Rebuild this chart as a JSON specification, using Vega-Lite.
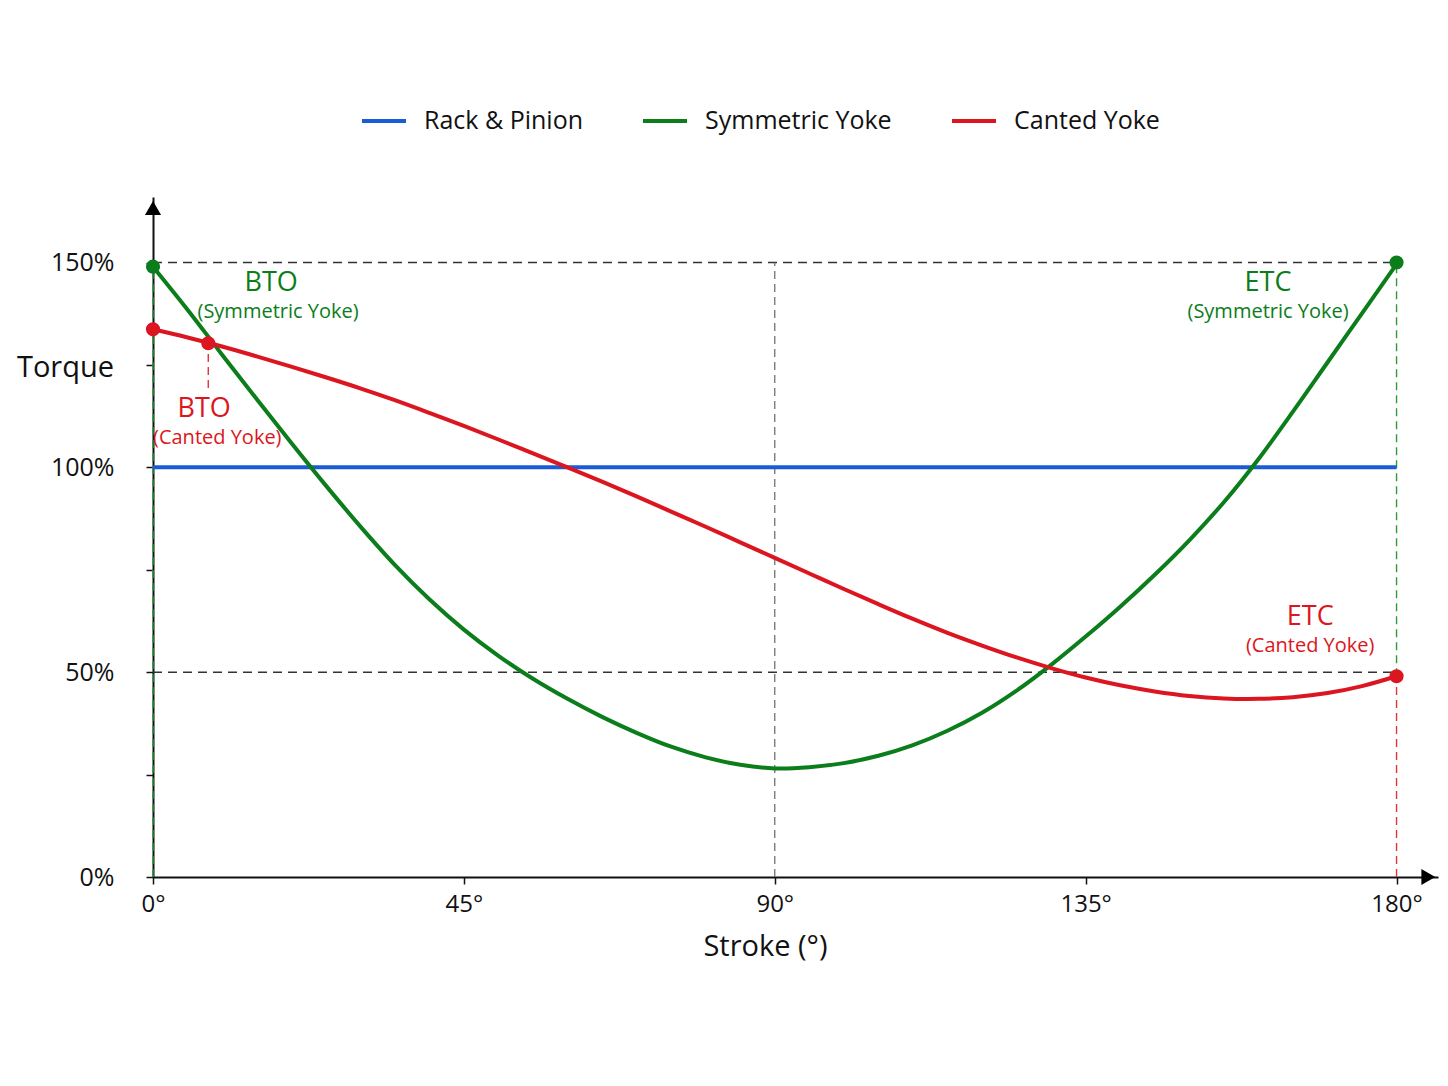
{
  "$schema": "https://vega.github.io/schema/vega-lite/v6.json",
  "autosize": "none",
  "width": 1285,
  "height": 680,
  "padding": {"left": 153, "top": 197, "right": 10, "bottom": 209},
  "background": "white",
  "datasets": {
    "curves": [
      {"series": "Rack & Pinion", "deg": 0, "pct": 100},
      {"series": "Rack & Pinion", "deg": 180, "pct": 100},
      {"series": "Symmetric Yoke", "deg": 0, "pct": 149},
      {"series": "Symmetric Yoke", "deg": 5, "pct": 138.5},
      {"series": "Symmetric Yoke", "deg": 10, "pct": 127.5},
      {"series": "Symmetric Yoke", "deg": 15, "pct": 116.7},
      {"series": "Symmetric Yoke", "deg": 20, "pct": 106},
      {"series": "Symmetric Yoke", "deg": 25, "pct": 95.6},
      {"series": "Symmetric Yoke", "deg": 30, "pct": 85.6},
      {"series": "Symmetric Yoke", "deg": 35, "pct": 76.2},
      {"series": "Symmetric Yoke", "deg": 40, "pct": 67.8},
      {"series": "Symmetric Yoke", "deg": 45, "pct": 60.4},
      {"series": "Symmetric Yoke", "deg": 50, "pct": 54},
      {"series": "Symmetric Yoke", "deg": 55, "pct": 48.4},
      {"series": "Symmetric Yoke", "deg": 60, "pct": 43.5},
      {"series": "Symmetric Yoke", "deg": 65, "pct": 39.1},
      {"series": "Symmetric Yoke", "deg": 70, "pct": 35.2},
      {"series": "Symmetric Yoke", "deg": 75, "pct": 31.8},
      {"series": "Symmetric Yoke", "deg": 80, "pct": 29.2},
      {"series": "Symmetric Yoke", "deg": 85, "pct": 27.4},
      {"series": "Symmetric Yoke", "deg": 90, "pct": 26.5},
      {"series": "Symmetric Yoke", "deg": 95, "pct": 26.8},
      {"series": "Symmetric Yoke", "deg": 100, "pct": 27.8},
      {"series": "Symmetric Yoke", "deg": 105, "pct": 29.6},
      {"series": "Symmetric Yoke", "deg": 110, "pct": 32.2},
      {"series": "Symmetric Yoke", "deg": 115, "pct": 35.7},
      {"series": "Symmetric Yoke", "deg": 120, "pct": 40.1},
      {"series": "Symmetric Yoke", "deg": 125, "pct": 45.5},
      {"series": "Symmetric Yoke", "deg": 130, "pct": 51.8},
      {"series": "Symmetric Yoke", "deg": 135, "pct": 58.7},
      {"series": "Symmetric Yoke", "deg": 140, "pct": 66},
      {"series": "Symmetric Yoke", "deg": 145, "pct": 73.8},
      {"series": "Symmetric Yoke", "deg": 150, "pct": 82.2},
      {"series": "Symmetric Yoke", "deg": 155, "pct": 91.5},
      {"series": "Symmetric Yoke", "deg": 160, "pct": 102},
      {"series": "Symmetric Yoke", "deg": 165, "pct": 113.6},
      {"series": "Symmetric Yoke", "deg": 170, "pct": 125.6},
      {"series": "Symmetric Yoke", "deg": 175, "pct": 137.6},
      {"series": "Symmetric Yoke", "deg": 180, "pct": 149.6},
      {"series": "Canted Yoke", "deg": 0, "pct": 133.7},
      {"series": "Canted Yoke", "deg": 5, "pct": 131.7},
      {"series": "Canted Yoke", "deg": 10, "pct": 129.5},
      {"series": "Canted Yoke", "deg": 15, "pct": 127.1},
      {"series": "Canted Yoke", "deg": 20, "pct": 124.6},
      {"series": "Canted Yoke", "deg": 25, "pct": 122},
      {"series": "Canted Yoke", "deg": 30, "pct": 119.3},
      {"series": "Canted Yoke", "deg": 35, "pct": 116.4},
      {"series": "Canted Yoke", "deg": 40, "pct": 113.3},
      {"series": "Canted Yoke", "deg": 45, "pct": 110.1},
      {"series": "Canted Yoke", "deg": 50, "pct": 106.8},
      {"series": "Canted Yoke", "deg": 55, "pct": 103.4},
      {"series": "Canted Yoke", "deg": 60, "pct": 100},
      {"series": "Canted Yoke", "deg": 65, "pct": 96.5},
      {"series": "Canted Yoke", "deg": 70, "pct": 92.9},
      {"series": "Canted Yoke", "deg": 75, "pct": 89.2},
      {"series": "Canted Yoke", "deg": 80, "pct": 85.5},
      {"series": "Canted Yoke", "deg": 85, "pct": 81.7},
      {"series": "Canted Yoke", "deg": 90, "pct": 77.9},
      {"series": "Canted Yoke", "deg": 95, "pct": 74.1},
      {"series": "Canted Yoke", "deg": 100, "pct": 70.3},
      {"series": "Canted Yoke", "deg": 105, "pct": 66.6},
      {"series": "Canted Yoke", "deg": 110, "pct": 63},
      {"series": "Canted Yoke", "deg": 115, "pct": 59.6},
      {"series": "Canted Yoke", "deg": 120, "pct": 56.5},
      {"series": "Canted Yoke", "deg": 125, "pct": 53.6},
      {"series": "Canted Yoke", "deg": 130, "pct": 51},
      {"series": "Canted Yoke", "deg": 135, "pct": 48.7},
      {"series": "Canted Yoke", "deg": 140, "pct": 46.8},
      {"series": "Canted Yoke", "deg": 145, "pct": 45.3},
      {"series": "Canted Yoke", "deg": 150, "pct": 44.2},
      {"series": "Canted Yoke", "deg": 155, "pct": 43.6},
      {"series": "Canted Yoke", "deg": 160, "pct": 43.5},
      {"series": "Canted Yoke", "deg": 165, "pct": 43.9},
      {"series": "Canted Yoke", "deg": 170, "pct": 44.9},
      {"series": "Canted Yoke", "deg": 175, "pct": 46.6},
      {"series": "Canted Yoke", "deg": 180, "pct": 49}
    ]
  },
  "encoding": {
    "x": {
      "field": "deg",
      "type": "quantitative",
      "scale": {"domain": [0, 186], "nice": false, "zero": false},
      "axis": {
        "values": [0, 45, 90, 135, 180],
        "labelExpr": "datum.value + '°'",
        "labelFlush": false,
        "title": "Stroke (°)",
        "titleX": 612,
        "titlePadding": 16,
        "titleFontSize": 29,
        "titleFontWeight": "normal",
        "labelFontSize": 24,
        "labelPadding": 8,
        "tickSize": 7,
        "grid": false
      }
    },
    "y": {
      "field": "pct",
      "type": "quantitative",
      "scale": {"domain": [0, 166], "nice": false},
      "axis": {
        "values": [0, 25, 50, 75, 100, 125, 150],
        "labelExpr": "datum.value % 50 == 0 ? datum.value + '%' : ''",
        "labelFlush": false,
        "title": "Torque",
        "titleAngle": 0,
        "titleX": -88,
        "titleY": 170,
        "titleAlign": "center",
        "titleBaseline": "middle",
        "titleFontSize": 29,
        "titleFontWeight": "normal",
        "labelFontSize": 25,
        "labelPadding": 32,
        "tickSize": 7,
        "grid": false
      }
    }
  },
  "layer": [
    {
      "data": {"values": [
        {"deg": 0, "deg2": 180, "pct": 150, "pct2": 150},
        {"deg": 0, "deg2": 180, "pct": 50, "pct2": 50}
      ]},
      "mark": {"type": "rule", "color": "#333333", "strokeWidth": 1.6, "strokeDash": [9, 6]},
      "encoding": {"x2": {"field": "deg2"}, "y2": {"field": "pct2"}}
    },
    {
      "data": {"values": [
        {"deg": 90, "deg2": 90, "pct": 0, "pct2": 150}
      ]},
      "mark": {"type": "rule", "color": "#666666", "strokeWidth": 1.2, "strokeDash": [8, 5]},
      "encoding": {"x2": {"field": "deg2"}, "y2": {"field": "pct2"}}
    },
    {
      "data": {"values": [
        {"deg": 180, "deg2": 180, "pct": 49, "pct2": 150},
        {"deg": 0, "deg2": 0, "pct": 0, "pct2": 149}
      ]},
      "mark": {"type": "rule", "color": "#2e9a3a", "strokeWidth": 1.4, "strokeDash": [8, 5]},
      "encoding": {"x2": {"field": "deg2"}, "y2": {"field": "pct2"}}
    },
    {
      "data": {"values": [
        {"deg": 180, "deg2": 180, "pct": 0, "pct2": 49},
        {"deg": 8, "deg2": 8, "pct": 119.4, "pct2": 130.3}
      ]},
      "mark": {"type": "rule", "color": "#e0343a", "strokeWidth": 1.4, "strokeDash": [8, 5]},
      "encoding": {"x2": {"field": "deg2"}, "y2": {"field": "pct2"}}
    },
    {
      "data": {"name": "curves"},
      "mark": {"type": "line", "strokeWidth": 4, "interpolate": "catmull-rom"},
      "encoding": {
        "color": {
          "field": "series",
          "type": "nominal",
          "sort": ["Rack & Pinion", "Symmetric Yoke", "Canted Yoke"],
          "scale": {
            "domain": ["Rack & Pinion", "Symmetric Yoke", "Canted Yoke"],
            "range": ["#1a5cd6", "#0b7d1a", "#dc1620"]
          },
          "legend": {
            "title": null,
            "orient": "none",
            "direction": "horizontal",
            "legendX": 207,
            "legendY": -100,
            "symbolType": "stroke",
            "symbolSize": 1936,
            "symbolStrokeWidth": 4,
            "labelFontSize": 25,
            "labelOffset": 16,
            "columnPadding": 52,
            "labelLimit": 400
          }
        }
      }
    },
    {
      "data": {"values": [
        {"deg": 0, "pct": 149},
        {"deg": 180, "pct": 150}
      ]},
      "mark": {"type": "point", "filled": true, "opacity": 1, "size": 200, "color": "#0b7d1a"}
    },
    {
      "data": {"values": [
        {"deg": 0, "pct": 133.7},
        {"deg": 8, "pct": 130.3},
        {"deg": 180, "pct": 49}
      ]},
      "mark": {"type": "point", "filled": true, "opacity": 1, "size": 200, "color": "#dc1620"}
    },
    {
      "data": {"values": [
        {"deg": 0, "pct": 163.3, "dir": "up"},
        {"deg": 184.6, "pct": 0, "dir": "right"}
      ]},
      "mark": {"type": "point", "filled": true, "opacity": 1, "size": 260, "color": "black"},
      "encoding": {
        "shape": {
          "field": "dir",
          "type": "nominal",
          "scale": {"domain": ["up", "right"], "range": ["triangle-up", "triangle-right"]},
          "legend": null
        }
      }
    },
    {
      "data": {"values": [
        {"deg": 17.1, "pct": 145, "label": "BTO"},
        {"deg": 161.4, "pct": 145, "label": "ETC"}
      ]},
      "mark": {"type": "text", "fontSize": 27, "color": "#0b7d1a", "baseline": "middle", "align": "center"},
      "encoding": {"text": {"field": "label"}}
    },
    {
      "data": {"values": [
        {"deg": 18.1, "pct": 137.9, "label": "(Symmetric Yoke)"},
        {"deg": 161.4, "pct": 137.9, "label": "(Symmetric Yoke)"}
      ]},
      "mark": {"type": "text", "fontSize": 20, "color": "#0b7d1a", "baseline": "middle", "align": "center"},
      "encoding": {"text": {"field": "label"}}
    },
    {
      "data": {"values": [
        {"deg": 7.4, "pct": 114.2, "label": "BTO"},
        {"deg": 167.5, "pct": 63.5, "label": "ETC"}
      ]},
      "mark": {"type": "text", "fontSize": 27, "color": "#dc1620", "baseline": "middle", "align": "center"},
      "encoding": {"text": {"field": "label"}}
    },
    {
      "data": {"values": [
        {"deg": 9.3, "pct": 107.2, "label": "(Canted Yoke)"},
        {"deg": 167.5, "pct": 56.4, "label": "(Canted Yoke)"}
      ]},
      "mark": {"type": "text", "fontSize": 20, "color": "#dc1620", "baseline": "middle", "align": "center"},
      "encoding": {"text": {"field": "label"}}
    }
  ],
  "config": {
    "view": {"stroke": null},
    "font": "Open Sans",
    "axis": {
      "domainColor": "#111111",
      "domainWidth": 2,
      "tickColor": "#111111",
      "tickWidth": 1.5,
      "labelColor": "#111111",
      "titleColor": "#111111",
      "labelFont": "Open Sans",
      "titleFont": "Open Sans"
    },
    "legend": {"labelColor": "#111111", "labelFont": "Open Sans"},
    "text": {"font": "Open Sans"}
  }
}
